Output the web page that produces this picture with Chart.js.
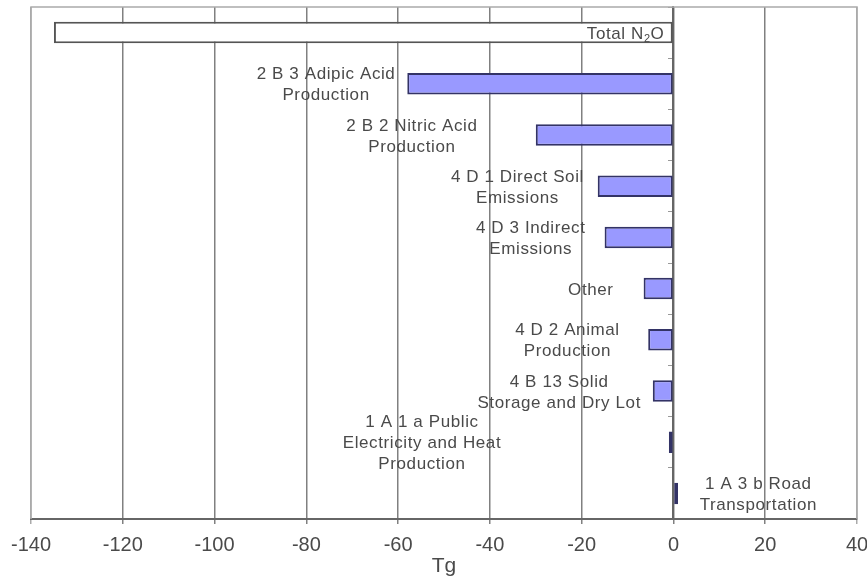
<!DOCTYPE html>
<html>
<head>
<meta charset="utf-8">
<script src="https://cdn.jsdelivr.net/npm/chart.js@4.4.1/dist/chart.umd.min.js"></script>
<style>
  html, body { margin: 0; padding: 0; background: #fff; }
  #wrap { width: 867px; height: 579px; }
</style>
</head>
<body>
<div id="wrap"><canvas id="c" width="867" height="579"></canvas></div>
<script>
// ---- data ----
const categories = [
  ["Total N₂O"],
  ["2 B 3 Adipic Acid", "Production"],
  ["2 B 2 Nitric Acid", "Production"],
  ["4 D 1 Direct Soil", "Emissions"],
  ["4 D 3 Indirect", "Emissions"],
  ["Other"],
  ["4 D 2 Animal", "Production"],
  ["4 B 13 Solid", "Storage and Dry Lot"],
  ["1 A 1 a Public", "Electricity and Heat", "Production"],
  ["1 A 3 b Road", "Transportation"]
];
const values = [-135, -58, -30, -16.5, -15, -6.5, -5.5, -4.5, -1, 1];
const xTicks = [-140, -120, -100, -80, -60, -40, -20, 0, 20, 40];
const axisTitle = "Tg";

// ---- label placement (data-unit anchors for label centres) ----
const labelAnchors = [null, -75.7, -57.0, -34.0, -31.1, -18.0, -23.1, -24.9, -54.8, 18.5];

const FONT = '"Liberation Sans", Arial, sans-serif';
const LABEL_SIZE = 17;

function drawRichLine(ctx, text, x, y, align, size) {
  const parts = text.split('₂');
  const mainFont = size + 'px ' + FONT;
  const subFont = Math.round(size * 0.65) + 'px ' + FONT;
  let widths = [];
  let total = 0;
  parts.forEach((p, i) => {
    ctx.font = mainFont;
    const w = ctx.measureText(p).width;
    widths.push(w); total += w;
    if (i < parts.length - 1) {
      ctx.font = subFont;
      total += ctx.measureText('2').width;
    }
  });
  let sx = align === 'right' ? x - total : (align === 'center' ? x - total / 2 : x);
  ctx.textAlign = 'left';
  ctx.textBaseline = 'middle';
  parts.forEach((p, i) => {
    ctx.font = mainFont;
    ctx.fillText(p, sx, y);
    sx += widths[i];
    if (i < parts.length - 1) {
      ctx.font = subFont;
      ctx.fillText('2', sx, y + size * 0.3);
      sx += ctx.measureText('2').width;
    }
  });
}

const labelPlugin = {
  id: 'barLabels',
  afterDatasetsDraw(chart) {
    const ctx = chart.ctx;
    const xs = chart.scales.x, ys = chart.scales.y;
    const lh = 21;
    ctx.save();
    ctx.fillStyle = '#4a4a4a';
    ctx.letterSpacing = '0.6px';
    categories.forEach((lines, i) => {
      const cy = ys.getPixelForValue(i) + 1.5;
      if (labelAnchors[i] === null) {
        drawRichLine(ctx, lines[0], xs.getPixelForValue(0) - 9, cy, 'right', LABEL_SIZE);
        return;
      }
      const cx = xs.getPixelForValue(labelAnchors[i]);
      const n = lines.length;
      lines.forEach((t, k) => {
        drawRichLine(ctx, t, cx, cy + (k - (n - 1) / 2) * lh, 'center', LABEL_SIZE);
      });
    });
    ctx.restore();
  }
};

const framePlugin = {
  id: 'frame',
  beforeDatasetsDraw(chart) {
    const a = chart.chartArea, ctx = chart.ctx;
    ctx.save();
    ctx.strokeStyle = '#aaa';
    ctx.lineWidth = 1.5;
    ctx.beginPath();
    ctx.moveTo(a.left, a.bottom);
    ctx.lineTo(a.left, a.top);
    ctx.lineTo(a.right, a.top);
    ctx.lineTo(a.right, a.bottom);
    ctx.stroke();
    ctx.restore();
  }
};

new Chart(document.getElementById('c'), {
  type: 'bar',
  data: {
    labels: categories.map(l => l.join(' ')),
    datasets: [{
      data: values,
      backgroundColor: values.map((v, i) => i === 0 ? '#ffffff' : '#9999ff'),
      borderColor: values.map((v, i) => i === 0 ? '#555555' : '#333366'),
      borderWidth: 2,
      borderSkipped: false,
      categoryPercentage: 1,
      barPercentage: 0.42
    }]
  },
  options: {
    indexAxis: 'y',
    responsive: false,
    animation: false,
    layout: { padding: { left: 31, right: 10, top: 7, bottom: 0 } },
    plugins: { legend: { display: false }, tooltip: { enabled: false } },
    scales: {
      x: {
        type: 'linear',
        min: -140, max: 40,
        afterBuildTicks: (s) => { s.ticks = xTicks.map(v => ({ value: v })); },
        afterFit: (s) => { s.paddingLeft = 0; s.paddingRight = 0; s.height = 60; },
        ticks: { color: '#4a4a4a', font: { family: FONT, size: 20 }, padding: 9, maxRotation: 0 },
        grid: {
          color: (c) => (c.tick && (c.tick.value === -140 || c.tick.value === 40)) ? '#aaa' : '#808080',
          lineWidth: 1.5,
          tickLength: 5,
          drawTicks: true
        },
        border: { color: '#666', width: 2 },
        title: { display: true, text: axisTitle, color: '#4a4a4a', font: { family: FONT, size: 21 }, padding: { top: 0, bottom: 0 } }
      },
      y: {
        type: 'category',
        position: { x: 0 },
        ticks: { display: false },
        grid: { drawOnChartArea: false, tickLength: 4, color: '#999', offset: true },
        border: { color: '#666', width: 2 }
      }
    }
  },
  plugins: [framePlugin, labelPlugin]
});
</script>
</body>
</html>
